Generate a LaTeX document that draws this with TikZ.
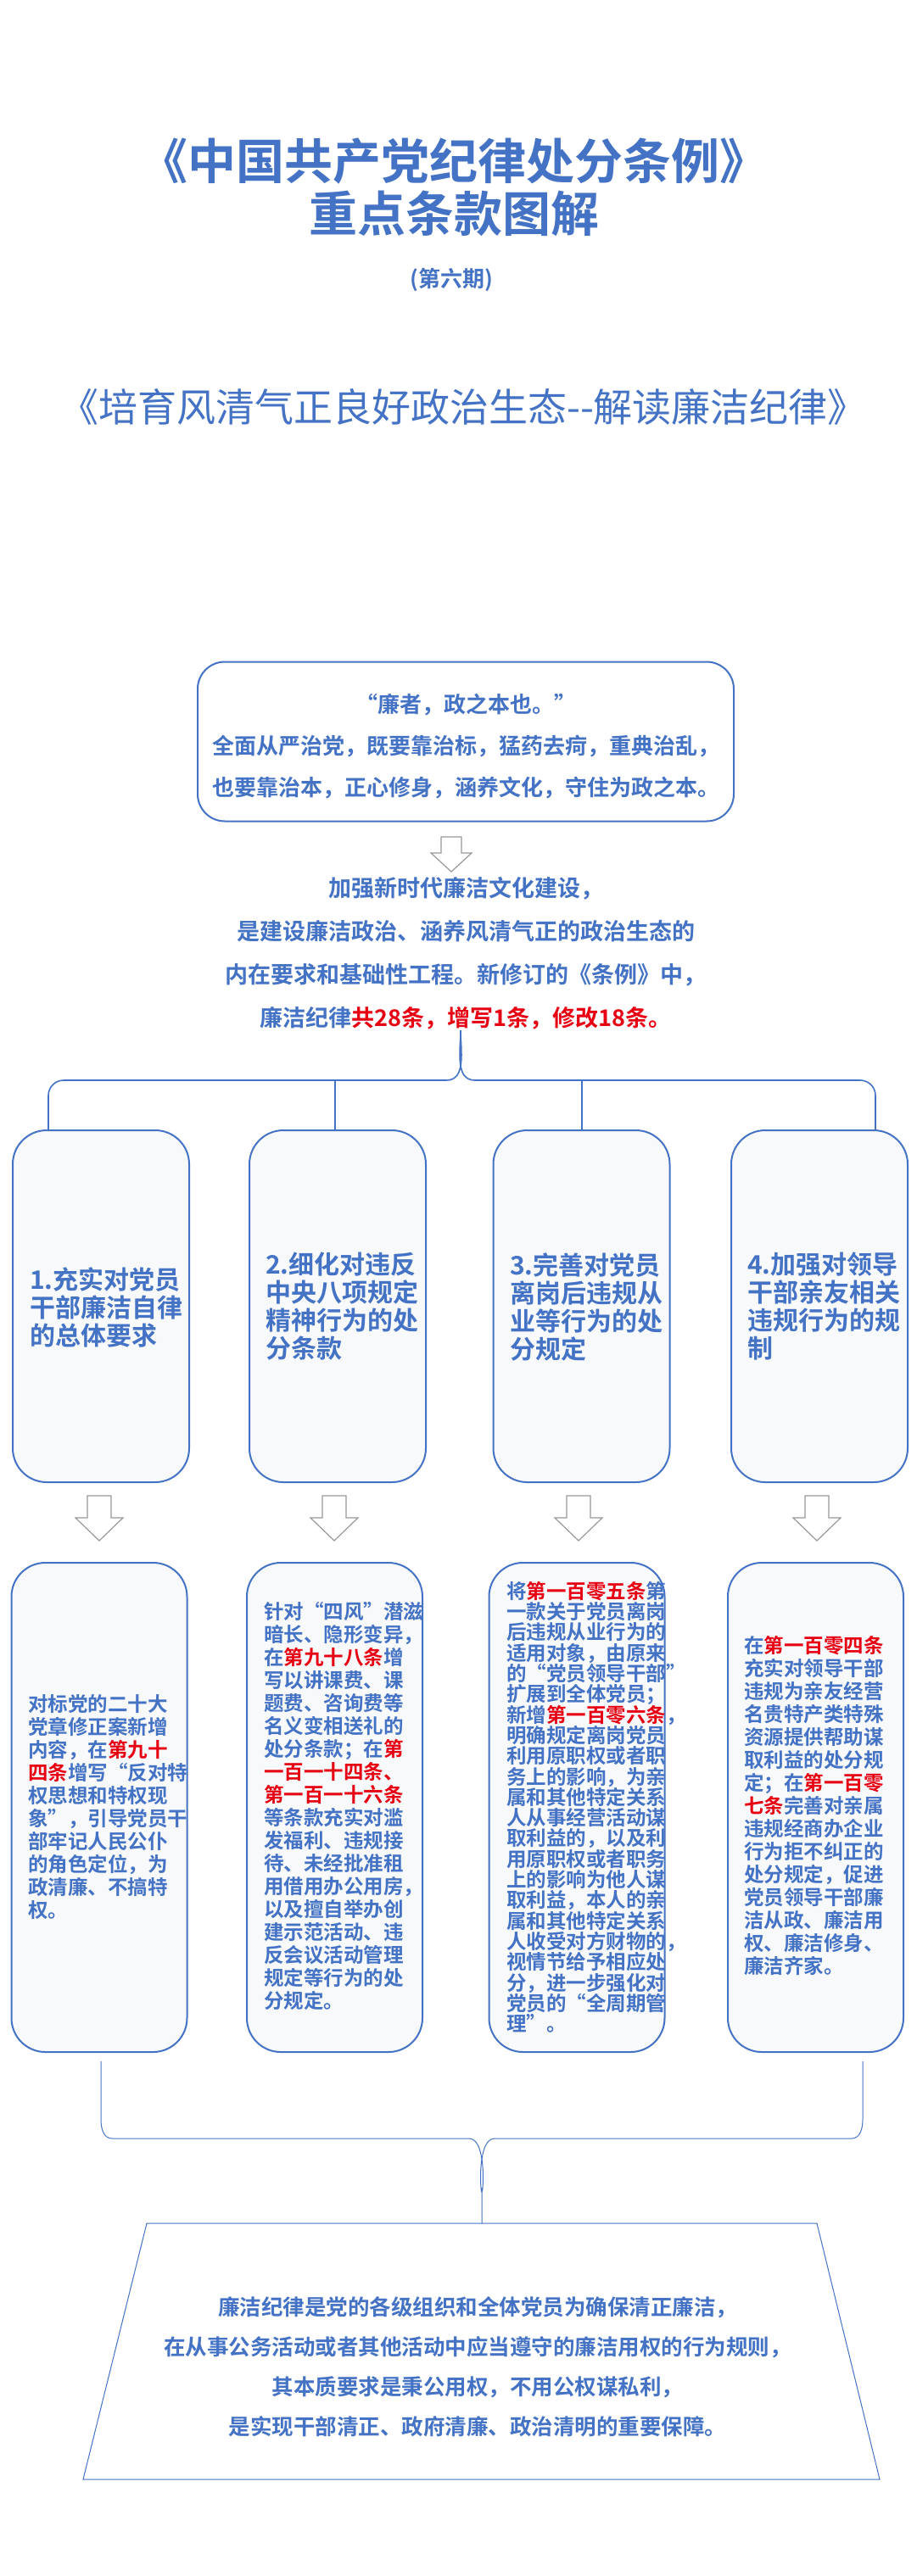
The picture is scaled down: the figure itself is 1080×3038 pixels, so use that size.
\documentclass[tikz,border=0pt]{standalone}
\usepackage{fontspec}
\setmainfont{Noto Sans CJK SC}[BoldFont={Noto Sans CJK SC Bold}]
\definecolor{bl}{HTML}{4472C4}
\definecolor{rd}{HTML}{E60012}
\definecolor{boxfill}{HTML}{F8F9FB}
\newcommand{\rr}[1]{\textcolor{rd}{#1}}
\newcommand{\harrow}[5]{% x, ytop, yhead, ybot, half-shaft, (head = 2*shaft)
  \draw[hollowarrow] (#1-#5,#2) -- (#1+#5,#2) -- (#1+#5,#3) -- (#1+2*#5,#3) -- (#1,#4) -- (#1-2*#5,#3) -- (#1-#5,#3) -- cycle;}
\begin{document}
\begin{tikzpicture}[x=1pt,y=-1pt,
  line/.style={draw=bl,line width=1.6pt},
  thin/.style={draw=bl,line width=1pt},
  hollowarrow/.style={draw=gray!80,line width=1.2pt,fill=white},
  colbox/.style={draw=bl,line width=2pt,fill=boxfill,rounded corners=40pt,minimum width=208pt,minimum height=415pt,inner sep=0pt},
  detbox/.style={draw=bl,line width=2pt,fill=boxfill,rounded corners=40pt,minimum width=207pt,minimum height=577pt,inner sep=0pt},
  coltext/.style={text=bl,font=\bfseries\fontsize{30}{33}\selectfont,align=left,inner sep=0pt},
  dettext/.style={text=bl,font=\bfseries\fontsize{23.5}{27}\selectfont,align=left,inner sep=0pt},
]
\useasboundingbox[fill=white] (0,0) rectangle (1080,3038);

% titles
\node[text=bl,font=\bfseries\fontsize{57}{60}\selectfont] (t1) at (535,190) {《中国共产党纪律处分条例》};
\node[text=bl,font=\bfseries\fontsize{57}{60}\selectfont] (t2) at (535,252) {重点条款图解};
\node[text=bl,font=\bfseries\fontsize{26}{30}\selectfont] (t3) at (532,330) {(第六期)};
\node[text=bl,font=\fontsize{46}{50}\selectfont] (t4) at (546,480) {《培育风清气正良好政治生态-{}-解读廉洁纪律》};

% top box
\node[draw=bl,line width=2pt,rounded corners=32pt,minimum width=632pt,minimum height=188pt] (top) at (549,874.5) {};
\node[text=bl,font=\bfseries\fontsize{26}{49}\selectfont,align=center] (toptext) at (549,880) {“廉者，政之本也。”\\全面从严治党，既要靠治标，猛药去疴，重典治乱，\\也要靠治本，正心修身，涵养文化，守住为政之本。};

\harrow{532}{987}{1006}{1028}{12}

\node[text=bl,font=\bfseries\fontsize{27}{51}\selectfont,align=center] (mid) at (549,1124) {加强新时代廉洁文化建设，\\是建设廉洁政治、涵养风清气正的政治生态的\\内在要求和基础性工程。新修订的《条例》中，\\廉洁纪律\rr{共28条，增写1条，修改18条。}};

% column boxes
\node[colbox] (c1) at (119,1540.5) {};
\node[colbox] (c2) at (398,1540.5) {};
\node[colbox] (c3) at (685.5,1540.5) {};
\node[colbox] (c4) at (966,1540.5) {};
\node[coltext,anchor=west] (ct1) at (35,1542) {1.充实对党员\\干部廉洁自律\\的总体要求};
\node[coltext,anchor=west] (ct2) at (313,1541) {2.细化对违反\\中央八项规定\\精神行为的处\\分条款};
\node[coltext,anchor=west] (ct3) at (601,1541) {3.完善对党员\\离岗后违规从\\业等行为的处\\分规定};
\node[coltext,anchor=west] (ct4) at (881,1541) {4.加强对领导\\干部亲友相关\\违规行为的规\\制};

% top brace
\coordinate (bt) at (543,1215);
\coordinate (bl1) at (57,1333);
\coordinate (br1) at (1032,1333);
\coordinate (bm2) at (395,1333);
\coordinate (bm3) at (686,1333);
\draw[line] (bl1) -- (57,1292) to[out=90,in=180] (75,1274) -- (526,1274) to[out=0,in=-90] (bt);
\draw[line] (br1) -- (1032,1292) to[out=90,in=0] (1014,1274) -- (560,1274) to[out=180,in=-90] (bt);
\draw[line] (bm2) -- (395,1274);
\draw[line] (bm3) -- (686,1274);

% arrows
\harrow{117}{1764}{1790}{1817}{14}
\harrow{394}{1764}{1790}{1817}{14}
\harrow{682}{1764}{1790}{1817}{14}
\harrow{963}{1764}{1790}{1817}{14}

% detail boxes
\node[detbox] (d1) at (117,2131.5) {};
\node[detbox] (d2) at (394.5,2131.5) {};
\node[detbox] (d3) at (680,2131.5) {};
\node[detbox] (d4) at (961.5,2131.5) {};

\node[dettext,anchor=north west] (dt1) at (33,1998) {对标党的二十大\\党章修正案新增\\内容，在\rr{第九十}\\\rr{四条}增写“反对特\\权思想和特权现\\象”，引导党员干\\部牢记人民公仆\\的角色定位，为\\政清廉、不搞特\\权。};
\node[dettext,anchor=north west] (dt2) at (311,1889) {针对“四风”潜滋\\暗长、隐形变异，\\在\rr{第九十八条}增\\写以讲课费、课\\题费、咨询费等\\名义变相送礼的\\处分条款；在\rr{第}\\\rr{一百一十四条、}\\\rr{第一百一十六条}\\等条款充实对滥\\发福利、违规接\\待、未经批准租\\用借用办公用房，\\以及擅自举办创\\建示范活动、违\\反会议活动管理\\规定等行为的处\\分规定。};
\node[dettext,anchor=north west,font=\bfseries\fontsize{23.5}{24.3}\selectfont] (dt3) at (597,1865) {将\rr{第一百零五条}第\\一款关于党员离岗\\后违规从业行为的\\适用对象，由原来\\的“党员领导干部”\\扩展到全体党员；\\新增\rr{第一百零六条}，\\明确规定离岗党员\\利用原职权或者职\\务上的影响，为亲\\属和其他特定关系\\人从事经营活动谋\\取利益的，以及利\\用原职权或者职务\\上的影响为他人谋\\取利益，本人的亲\\属和其他特定关系\\人收受对方财物的，\\视情节给予相应处\\分，进一步强化对\\党员的“全周期管\\理”。};
\node[dettext,anchor=north west] (dt4) at (877,1929) {在\rr{第一百零四条}\\充实对领导干部\\违规为亲友经营\\名贵特产类特殊\\资源提供帮助谋\\取利益的处分规\\定；在\rr{第一百零}\\\rr{七条}完善对亲属\\违规经商办企业\\行为拒不纠正的\\处分规定，促进\\党员领导干部廉\\洁从政、廉洁用\\权、廉洁修身、\\廉洁齐家。};

% bottom brace
\coordinate (ql) at (119,2431);
\coordinate (qr) at (1017,2431);
\coordinate (qb) at (568,2622);
\draw[thin] (ql) -- (119,2500) to[out=-90,in=180] (132,2522) -- (553,2522) to[out=0,in=-90] (568,2580) -- (qb);
\draw[thin] (qr) -- (1017,2500) to[out=-90,in=0] (1004,2522) -- (583,2522) to[out=180,in=-90] (568,2580);

% trapezoid
\coordinate (tza) at (173,2622);
\coordinate (tzb) at (963,2622);
\coordinate (tzc) at (1037,2924);
\coordinate (tzd) at (98,2924);
\draw[thin] (tza) -- (tzb) -- (tzc) -- (tzd) -- cycle;
\node[text=bl,font=\bfseries\fontsize{25.5}{47}\selectfont,align=center] (bot) at (563,2791) {廉洁纪律是党的各级组织和全体党员为确保清正廉洁，\\在从事公务活动或者其他活动中应当遵守的廉洁用权的行为规则，\\其本质要求是秉公用权，不用公权谋私利，\\是实现干部清正、政府清廉、政治清明的重要保障。};
\end{tikzpicture}
\end{document}
